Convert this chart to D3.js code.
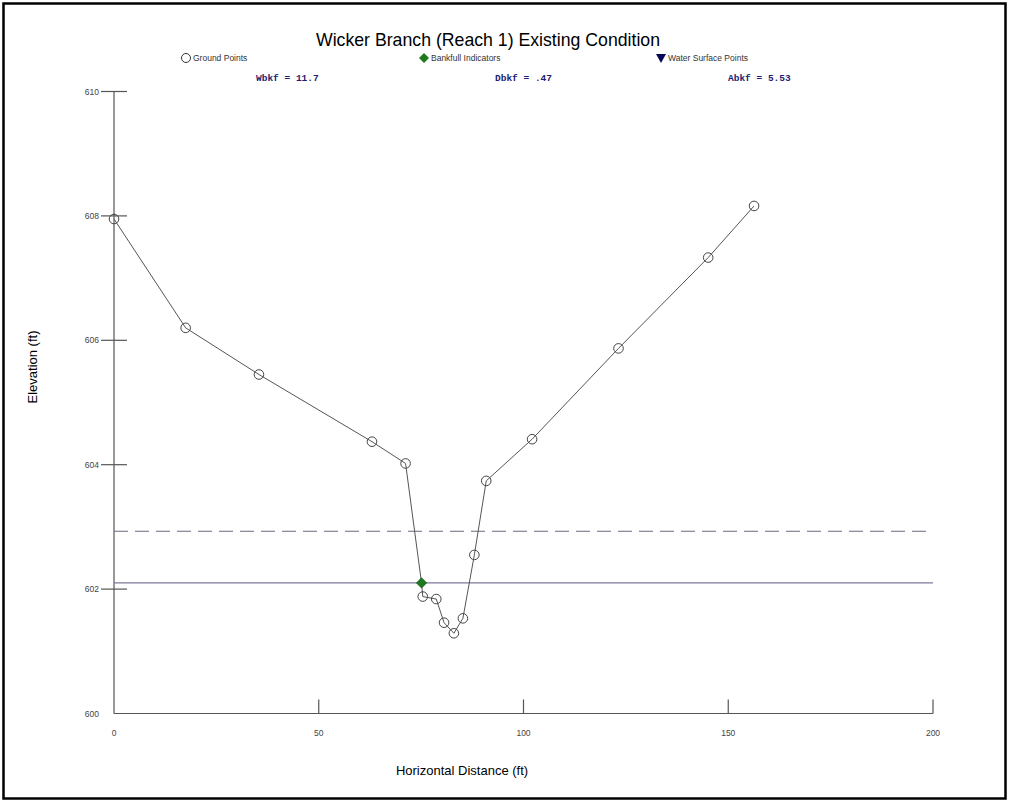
<!DOCTYPE html>
<html><head><meta charset="utf-8">
<script src="https://cdn.jsdelivr.net/npm/d3@7"></script>
<style>body{margin:0;background:#fff}svg{display:block}</style>
</head><body>
<svg id="c" width="1010" height="803"></svg>
<script>
const groundX = [0, 17.5, 35.4, 63.0, 71.2, 75.4, 78.7, 80.6, 83.0, 85.2, 88.0, 90.9, 102.1, 123.2, 145.1, 156.3];
const groundY = [607.95, 606.2, 605.45, 604.37, 604.02, 601.88, 601.84, 601.46, 601.29, 601.53, 602.55, 603.74, 604.41, 605.87, 607.33, 608.16];
const bankfullX = [75.1];
const bankfullY = [602.10];
const bankfullElev = 602.10;
const floodElev = 602.93;
const xTicks = [50, 100, 150, 200];
const xTickLabels = ["0", "50", "100", "150", "200"];
const yTicks = [602, 604, 606, 608, 610];
const yTickLabels = ["600", "602", "604", "606", "608", "610"];
const legendLabels = ["Ground Points", "Bankfull Indicators", "Water Surface Points"];
const statLabels = ["Wbkf = 11.7", "Dbkf = .47", "Abkf = 5.53"];

const svg = d3.select("#c");
const x = d3.scaleLinear().domain([0, 200]).range([114, 933]);
const y = d3.scaleLinear().domain([600, 610]).range([713.5, 91.5]);
const diamond = s => `M0,${-s} L${s},0 L0,${s} L${-s},0 Z`;

// frame
svg.append("rect").attr("x", 3.5).attr("y", 3.5).attr("width", 1002).attr("height", 795)
  .attr("fill", "none").attr("stroke", "#000").attr("stroke-width", 2.5);

// title
svg.append("text").attr("x", 488).attr("y", 46).attr("text-anchor", "middle")
  .attr("font-family", "Arial, Liberation Sans, sans-serif").attr("font-size", 17.7).attr("fill", "#000")
  .text("Wicker Branch (Reach 1) Existing Condition");

// legend
const lf = "Arial, Liberation Sans, sans-serif";
const lg = svg.append("g");
const lx = [186, 424, 661];
lg.append("circle").attr("cx", lx[0]).attr("cy", 58).attr("r", 4.5).attr("fill", "#fff").attr("stroke", "#333");
lg.append("path").attr("d", diamond(5)).attr("transform", `translate(${lx[1]},58)`).attr("fill", "#1e7a1e");
lg.append("path").attr("d", "M-5,-4 L5,-4 L0,5 Z").attr("transform", `translate(${lx[2]},58)`).attr("fill", "#0a0a5a");
legendLabels.forEach((t, i) => {
  lg.append("text").attr("x", lx[i] + 7).attr("y", 61).attr("font-family", lf).attr("font-size", 8.5).attr("fill", "#333").text(t);
});
const sx = [256, 495, 728];
statLabels.forEach((t, i) => {
  svg.append("text").attr("x", sx[i]).attr("y", 81).attr("font-family", "Liberation Mono, DejaVu Sans Mono, monospace")
    .attr("font-weight", "bold").attr("font-size", 9.5).attr("fill", "#1c1c70").text(t);
});

// axes
const ax = svg.append("g").attr("stroke", "#555").attr("stroke-width", 1.2);
ax.append("line").attr("x1", x(0)).attr("x2", x(0)).attr("y1", y(610)).attr("y2", y(600));
ax.append("line").attr("x1", x(0)).attr("x2", x(200)).attr("y1", y(600)).attr("y2", y(600));
yTicks.forEach(v => ax.append("line").attr("x1", x(0) - 13).attr("x2", x(0) + 13).attr("y1", y(v)).attr("y2", y(v)));
xTicks.forEach(v => ax.append("line").attr("x1", x(v)).attr("x2", x(v)).attr("y1", y(600) - 14).attr("y2", y(600)));

const tf = svg.append("g").attr("font-family", lf).attr("font-size", 8.5).attr("fill", "#444");
[600, 602, 604, 606, 608, 610].forEach((v, i) => {
  tf.append("text").attr("x", 99).attr("y", y(v) + 3).attr("text-anchor", "end").text(yTickLabels[i]);
});
[0, 50, 100, 150, 200].forEach((v, i) => {
  tf.append("text").attr("x", x(v)).attr("y", 736).attr("text-anchor", "middle").text(xTickLabels[i]);
});

svg.append("text").attr("x", 462).attr("y", 775).attr("text-anchor", "middle")
  .attr("font-family", lf).attr("font-size", 13).attr("fill", "#000").text("Horizontal Distance (ft)");
svg.append("text").attr("transform", "translate(37,367) rotate(-90)").attr("text-anchor", "middle")
  .attr("font-family", lf).attr("font-size", 13).attr("fill", "#000").text("Elevation (ft)");

// reference lines
svg.append("line").attr("x1", x(0)).attr("x2", x(200)).attr("y1", y(floodElev)).attr("y2", y(floodElev))
  .attr("stroke", "#6a6a80").attr("stroke-width", 1.2).attr("stroke-dasharray", "14,7");
svg.append("line").attr("x1", x(0)).attr("x2", x(200)).attr("y1", y(bankfullElev)).attr("y2", y(bankfullElev))
  .attr("stroke", "#7a7a9a").attr("stroke-width", 1.2);

// ground line: include bankfull point in sequence
const pts = groundX.map((d, i) => [d, groundY[i]]);
const linePts = pts.slice(0, 5).concat([[bankfullX[0], bankfullY[0]]], pts.slice(5));
svg.append("path").datum(linePts).attr("fill", "none").attr("stroke", "#555").attr("stroke-width", 1)
  .attr("d", d3.line().x(d => x(d[0])).y(d => y(d[1])));
svg.append("g").selectAll("circle").data(pts).join("circle")
  .attr("cx", d => x(d[0])).attr("cy", d => y(d[1])).attr("r", 4.8)
  .attr("fill", "none").attr("stroke", "#444").attr("stroke-width", 1);
svg.append("g").selectAll("path").data(bankfullX.map((d, i) => [d, bankfullY[i]])).join("path")
  .attr("d", diamond(5.2))
  .attr("transform", d => `translate(${x(d[0])},${y(d[1])})`).attr("fill", "#1e7a1e").attr("stroke", "#0d4d0d").attr("stroke-width", 0.6);
</script>
</body></html>
